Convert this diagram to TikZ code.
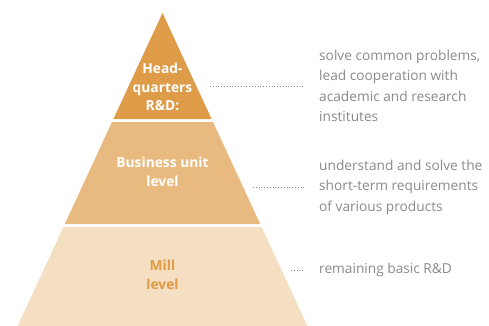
\documentclass[tikz,border=0pt]{standalone}
\usepackage{fontspec}
\setmainfont{Open Sans}
\usepackage{xcolor}
\definecolor{hqcol}{HTML}{DE9B48}
\definecolor{bucol}{HTML}{E9BA80}
\definecolor{millcol}{HTML}{F5DFC2}
\definecolor{millfont}{HTML}{DF9A42}
\definecolor{greytxt}{HTML}{8A8A8A}

\begin{document}
\begin{tikzpicture}[x=1pt, y=-1pt,
    level/.style = {font=\fontsize{13.8}{18.5}\selectfont\bfseries, align=center, inner sep=0pt},
    note/.style = {font=\fontsize{13.7}{20.5}\selectfont, text=greytxt, align=left, inner sep=0pt, anchor=west},
    link/.style = {draw=greytxt, dotted, line width=0.8pt, shorten >=14pt}]
        \useasboundingbox (0,0) rectangle (489,326);
        % pyramid bands
        \fill[hqcol] (162.5,13) -- (211.6,119) -- (113.4,119) -- cycle;
        \fill[bucol] (112.0,122) -- (213.0,122) -- (260.2,224) -- (64.8,224) -- cycle;
        \fill[millcol] (63.4,227) -- (261.6,227) -- (307.4,326) -- (17.6,326) -- cycle;
        % levels
        \node[level, text=white] (hq) at (162.5,87) {Head-\\quarters\\R\&D:};
        \node[level, text=white] (bu) at (162.5,172) {Business unit\\level};
        \node[level, text=millfont] (mill) at (162.5,275) {Mill\\level};
        % notes
        \node[note] (hqtxt) at (319,86) {solve common problems,\\lead cooperation with\\academic and research\\institutes};
        \node[note] (butxt) at (319,187) {understand and solve the\\short-term requirements\\of various products};
        \node[note] (milltxt) at (319,270) {remaining basic R\&D};
        \coordinate (d1) at (210,86);
        \coordinate (d2) at (253,187);
        \coordinate (d3) at (291,270);
        \draw[link] (d1) -- (hqtxt.west);
        \draw[link] (d2) -- (butxt.west);
        \draw[link] (d3) -- (milltxt.west);
    \end{tikzpicture}
\end{document}
